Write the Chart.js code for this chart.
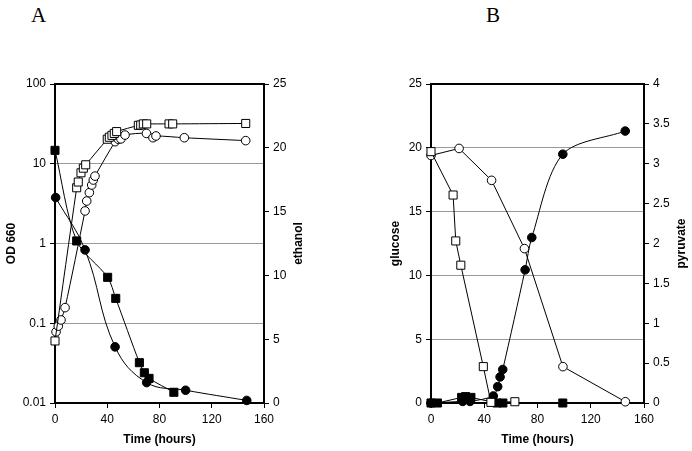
<!DOCTYPE html>
<html>
<head>
<meta charset="utf-8">
<script src="https://cdn.jsdelivr.net/npm/chart.js@4.4.0/dist/chart.umd.min.js"></script>
<style>
  body { margin: 0; background: #fff; width: 692px; height: 451px; position: relative; overflow: hidden; }
  canvas { position: absolute; top: 0; }
  #chartA { left: 0; }
  #chartB { left: 346px; }
  .panel { position: absolute; top: 3px; font-family: "Liberation Serif", "Times New Roman", serif; font-size: 21px; color: #000; }
</style>
</head>
<body>
<div class="panel" style="left:31px">A</div>
<div class="panel" style="left:486px">B</div>
<canvas id="chartA" width="346" height="451"></canvas>
<canvas id="chartB" width="346" height="451"></canvas>
<script>
// ---- panel A : OD 660 (log, left) and ethanol (right) ----
const odSquareTime = [0, 16.6, 17.8, 19.9, 21.7, 23.5, 40, 41.6, 43.6, 45.4, 47.2, 63.8, 65.6, 67.6, 70.2, 87.3, 90.1, 146];
const odSquare = [0.06, 5.0, 5.9, 7.7, 8.8, 9.7, 20.3, 21.5, 22.7, 24, 25.3, 30.3, 30.6, 31.6, 31.6, 31.6, 31.6, 32];
const odCircleTime = [0.8, 2.5, 4.6, 7.7, 23, 24.3, 26.3, 28.1, 29.3, 30.6, 46, 48.5, 50.5, 53.6, 70, 75, 77.3, 99, 146];
const odCircle = [0.078, 0.092, 0.11, 0.157, 2.56, 3.41, 4.34, 5.41, 6.25, 7.0, 18.9, 20.3, 20.5, 22.9, 24, 21.2, 22.3, 21.2, 19.5];
const ethSquareTime = [0, 16.6, 40.3, 46.5, 64.6, 68.4, 72, 91];
const ethSquare = [19.8, 12.7, 9.85, 8.2, 3.16, 2.37, 1.93, 0.84];
const ethCircleTime = [0.5, 23, 46, 70.2, 100, 146.8];
const ethCircle = [16.1, 12.0, 4.4, 1.6, 1.0, 0.2];

// ---- panel B : glucose (left) and pyruvate (right) ----
const glcSquareTime = [0, 16.6, 18.6, 22.4, 39.3, 45, 63];
const glcSquare = [19.7, 16.3, 12.7, 10.8, 2.85, 0.05, 0.1];
const glcCircleTime = [0, 21.1, 45.5, 70.2, 99.1, 146];
const glcCircle = [19.4, 19.95, 17.45, 12.1, 2.85, 0.1];
const pyrCircleTime = [0, 23.8, 29.3, 46.8, 50.1, 51.9, 53.9, 70.7, 75.7, 99, 145.9];
const pyrCircle = [0, 0.02, 0.02, 0.088, 0.205, 0.327, 0.42, 1.67, 2.075, 3.12, 3.41];
const pyrSquareTime = [0, 4.8, 23, 26, 30, 49.5, 54, 99];
const pyrSquare = [0, 0, 0.07, 0.08, 0.07, 0, 0, 0];

const timeTicks = [0, 40, 80, 120, 160];
const odTicks = [0.01, 0.1, 1, 10, 100];

Chart.defaults.font.family = '"Liberation Sans", Arial, sans-serif';
Chart.defaults.font.size = 12;
Chart.defaults.color = '#000';

function pts(xs, ys) {
    return xs.map((x, i) => ({ x: x, y: ys[i] }));
}

function series(xs, ys, axis, shape, filled, tension) {
    return {
        data: pts(xs, ys),
        yAxisID: axis,
        borderColor: '#000',
        borderWidth: 1,
        pointStyle: shape,
        pointRadius: shape === 'rect' ? 5.7 : 4.3,
        pointBackgroundColor: filled ? '#000' : '#fff',
        pointBorderColor: '#000',
        pointBorderWidth: 1,
        tension: tension,
        clip: false
    };
}

// box round the plot area plus a bottom-to-top title for the right axis
const frame = {
    id: 'frame',
    beforeDatasetsDraw(chart, args, opts) {
        const { ctx, chartArea: a } = chart;
        ctx.save();
        ctx.strokeStyle = '#000';
        ctx.lineWidth = 2;
        ctx.strokeRect(a.left, a.top, a.right - a.left, a.bottom - a.top);
        ctx.restore();
    },
    afterDraw(chart, args, opts) {
        const { ctx, chartArea: a } = chart;
        ctx.save();
        ctx.translate(opts.titleX, (a.top + a.bottom) / 2);
        ctx.rotate(-Math.PI / 2);
        ctx.font = 'bold 12px "Liberation Sans", Arial, sans-serif';
        ctx.textAlign = 'center';
        ctx.textBaseline = 'middle';
        ctx.fillStyle = '#000';
        ctx.fillText(opts.text, 0, 0);
        ctx.restore();
    }
};

function timeAxis() {
    return {
        type: 'linear', position: 'bottom', min: 0, max: 160,
        afterBuildTicks: s => { s.ticks = timeTicks.map(v => ({ value: v })); },
        ticks: { padding: 4 },
        grid: { drawOnChartArea: false, tickLength: 5, tickColor: '#000' },
        border: { display: false },
        title: { display: true, text: 'Time (hours)', font: { size: 12, weight: 'bold' }, padding: { top: 4, bottom: 4 } },
        afterFit: s => { s.height = 48; }
    };
}

function gridColor(lo, hi) {
    return c => (c.tick && c.tick.value > lo && c.tick.value < hi) ? '#9a9a9a' : 'rgba(0,0,0,0)';
}

// CHART A
new Chart(document.getElementById('chartA'), {
    type: 'line',
    data: {
        datasets: [
            series(odSquareTime, odSquare, 'y', 'rect', false, 0.3),
            series(odCircleTime, odCircle, 'y', 'circle', false, 0.3),
            series(ethSquareTime, ethSquare, 'y2', 'rect', true, 0.3),
            series(ethCircleTime, ethCircle, 'y2', 'circle', true, 0.4)
        ]
    },
    options: {
        responsive: false,
        animation: false,
        layout: { padding: { left: 0, top: 84, right: 42, bottom: 0 } },
        plugins: { legend: { display: false }, tooltip: { enabled: false }, frame: { titleX: 299, text: 'ethanol' } },
        scales: {
            x: timeAxis(),
            y: {
                type: 'logarithmic', position: 'left', min: 0.01, max: 100,
                afterBuildTicks: s => { s.ticks = odTicks.map(v => ({ value: v })); },
                ticks: { padding: 4, callback: v => String(v) },
                grid: { color: gridColor(0.01, 100), lineWidth: 1, tickLength: 5, tickColor: '#000' },
                border: { display: false },
                title: { display: true, text: 'OD 660', font: { size: 12, weight: 'bold' }, padding: { top: 4, bottom: 4 } },
                afterFit: s => { s.width = 55; }
            },
            y2: {
                type: 'linear', position: 'right', min: 0, max: 25,
                ticks: { stepSize: 5, padding: 4 },
                grid: { drawOnChartArea: false, tickLength: 5, tickColor: '#000' },
                border: { display: false },
                afterFit: s => { s.width = 40; }
            }
        }
    },
    plugins: [frame]
});

// CHART B
new Chart(document.getElementById('chartB'), {
    type: 'line',
    data: {
        datasets: [
            series(glcSquareTime, glcSquare, 'y', 'rect', false, 0),
            series(glcCircleTime, glcCircle, 'y', 'circle', false, 0),
            series(pyrSquareTime, pyrSquare, 'y2', 'rect', true, 0),
            series(pyrCircleTime, pyrCircle, 'y2', 'circle', true, 0.3)
        ]
    },
    options: {
        responsive: false,
        animation: false,
        layout: { padding: { left: 38, top: 84, right: 8, bottom: 0 } },
        plugins: { legend: { display: false }, tooltip: { enabled: false }, frame: { titleX: 336, text: 'pyruvate' } },
        scales: {
            x: timeAxis(),
            y: {
                type: 'linear', position: 'left', min: 0, max: 25,
                ticks: { stepSize: 5, padding: 4 },
                grid: { color: gridColor(0, 25), lineWidth: 1, tickLength: 5, tickColor: '#000' },
                border: { display: false },
                title: { display: true, text: 'glucose', font: { size: 12, weight: 'bold' }, padding: { top: 4, bottom: 4 } },
                afterFit: s => { s.width = 47; }
            },
            y2: {
                type: 'linear', position: 'right', min: 0, max: 4,
                ticks: { stepSize: 0.5, padding: 4, callback: v => String(v) },
                grid: { drawOnChartArea: false, tickLength: 5, tickColor: '#000' },
                border: { display: false },
                afterFit: s => { s.width = 40; }
            }
        }
    },
    plugins: [frame]
});
</script>
</body>
</html>
